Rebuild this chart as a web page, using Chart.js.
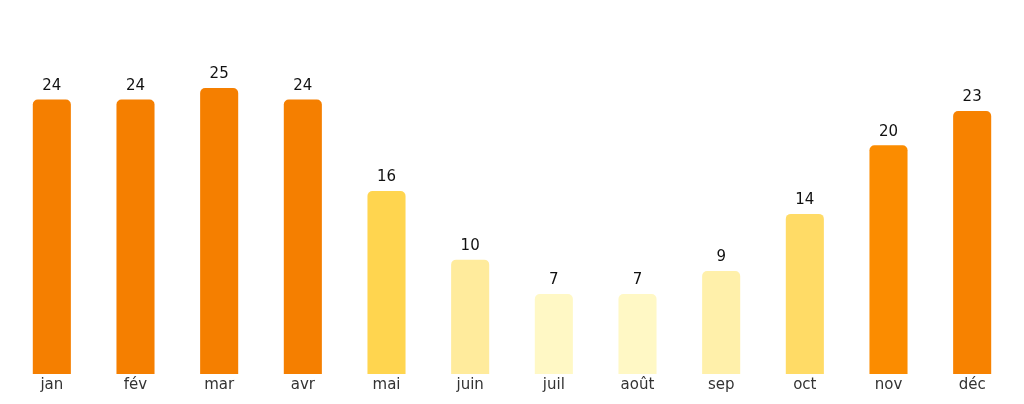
<!DOCTYPE html>
<html>
<head>
<meta charset="utf-8">
<script src="https://cdn.jsdelivr.net/npm/chart.js@4/dist/chart.umd.min.js"></script>
<style>
  html, body { margin: 0; padding: 0; background: #fff; }
  #wrap { width: 1024px; height: 404px; position: relative; }
</style>
</head>
<body>
<div id="wrap"><canvas id="chart"></canvas></div>
<script>
const months = ["jan", "fév", "mar", "avr", "mai", "juin", "juil", "août", "sep", "oct", "nov", "déc"];
const values = [24, 24, 25, 24, 16, 10, 7, 7, 9, 14, 20, 23];
const barColors = ["#F57F00", "#F57F00", "#F57F00", "#F57F00", "#FFD54F", "#FFEB9C", "#FFF8C5", "#FFF8C5", "#FFF0AA", "#FFDB66", "#FB8C00", "#F78200"];

// draws the value above each bar (no datalabels plugin offline)
const valueLabels = {
  id: "valueLabels",
  afterDatasetsDraw(chart) {
    const ctx = chart.ctx;
    const meta = chart.getDatasetMeta(0);
    ctx.save();
    ctx.fillStyle = "#111";
    ctx.font = "15px 'DejaVu Sans'";
    ctx.textAlign = "center";
    ctx.textBaseline = "bottom";
    meta.data.forEach((bar, i) => {
      ctx.fillText(String(values[i]), bar.x, bar.y - 6);
    });
    ctx.restore();
  }
};

new Chart(document.getElementById("chart"), {
  type: "bar",
  data: {
    labels: months,
    datasets: [{
      data: values,
      backgroundColor: barColors,
      borderWidth: 0,
      borderRadius: { topLeft: 5, topRight: 5, bottomLeft: 0, bottomRight: 0 },
      borderSkipped: "bottom",
      categoryPercentage: 1,
      barPercentage: 0.455
    }]
  },
  options: {
    responsive: true,
    maintainAspectRatio: false,
    animation: false,
    layout: { padding: { top: 8, left: 10, right: 10, bottom: 8 } },
    plugins: { legend: { display: false }, tooltip: { enabled: false } },
    scales: {
      x: {
        grid: { display: false, drawTicks: false },
        border: { display: false },
        ticks: { color: "#333", font: { family: "DejaVu Sans", size: 15 }, padding: 2 }
      },
      y: {
        min: 0,
        max: 32,
        display: false
      }
    }
  },
  plugins: [valueLabels]
});
</script>
</body>
</html>
